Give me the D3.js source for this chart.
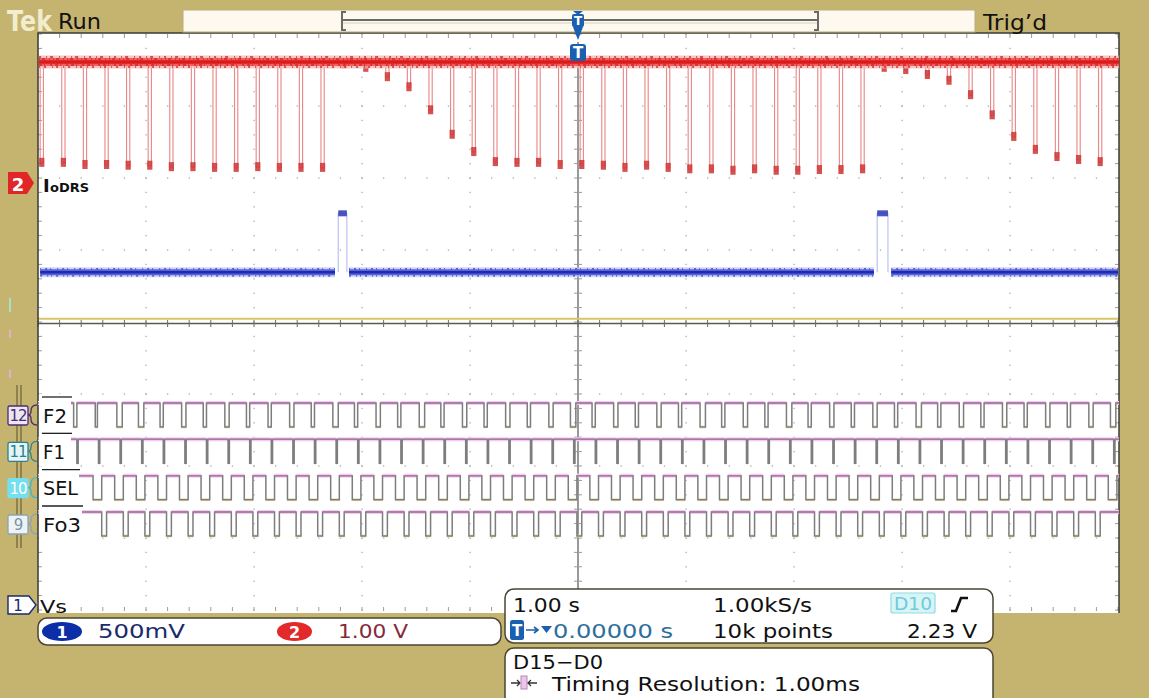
<!DOCTYPE html>
<html><head><meta charset="utf-8">
<script src="https://cdn.jsdelivr.net/npm/d3@7"></script>
<style>
html,body{margin:0;padding:0;background:#c5b46f;overflow:hidden}
svg{display:block}
text{font-family:"DejaVu Sans",sans-serif}
</style></head><body>
<svg id="c" width="1149" height="698"></svg>
<script>
// ---------------- DATA ----------------
// Channel 2 (IoDRS, 1.00 V/div): pulse times (s) and pulse bottom levels (V)
const ch2PulseTimes = [-4.98,-4.78,-4.58,-4.38,-4.18,-3.98,-3.78,-3.58,-3.38,-3.18,
  -2.98,-2.78,-2.58,-2.38,-2.18,-1.98,-1.78,-1.58,-1.38,-1.18,
  -0.98,-0.78,-0.58,-0.38,-0.18,0.02,0.22,0.42,0.62,0.82,
  1.02,1.22,1.42,1.62,1.82,2.02,2.22,2.42,2.62,2.82,
  3.02,3.22,3.42,3.62,3.82,4.02,4.22,4.42,4.62,4.82];
const ch2PulseLevels = [0.28,0.28,0.25,0.25,0.24,0.24,0.22,0.22,0.21,0.21,
  0.22,0.21,0.21,0.21,1.65,1.60,1.47,1.33,1.01,0.67,
  0.43,0.29,0.28,0.28,0.25,0.25,0.24,0.21,0.24,0.21,
  0.19,0.19,0.17,0.19,0.17,0.17,0.18,0.18,0.19,1.60,
  1.57,1.50,1.42,1.22,0.94,0.64,0.46,0.36,0.32,0.29];
const ch2Baseline = 1.68;
const ch2PulseWidth = 0.03;
// Channel 1 (500 mV/div)
const ch1Baseline = 2.31;
const ch1PulseStarts = [-2.22, 2.77];
const ch1PulseEnds = [-2.14, 2.87];
const ch1PulseLevel = 2.72;
const ch1BaseSegments = [[-4.98,-2.25],[-2.12,2.74],[2.90,5.0]];
// Digital channels: low-going pulses (start time s, width s)
const digitalNames = ["F2","F1","SEL","Fo3"];
const digitalNums = ["12","11","10","9"];
const f2Starts = [-4.67,-4.47,-4.27,-4.07,-3.87,-3.67,-3.47,-3.27,-3.07,-2.87,
  -2.67,-2.47,-2.27,-2.07,-1.87,-1.67,-1.47,-1.27,-1.07,-0.87,
  -0.67,-0.47,-0.27,-0.07,0.13,0.33,0.53,0.73,0.93,1.13,
  1.33,1.53,1.73,1.93,2.13,2.33,2.53,2.73,2.93,3.13,
  3.33,3.53,3.73,3.93,4.13,4.33,4.53,4.73,4.93];
const f2Widths = [0.03,0.02,0.05,0.05,0.03,0.04,0.03,0.04,0.03,0.03,
  0.04,0.03,0.05,0.03,0.04,0.03,0.05,0.03,0.04,0.03,
  0.04,0.03,0.04,0.05,0.03,0.04,0.03,0.04,0.03,0.05,
  0.03,0.04,0.03,0.05,0.03,0.04,0.03,0.04,0.03,0.05,
  0.03,0.04,0.03,0.04,0.03,0.04,0.03,0.04,0.05];
const f1Starts = [-4.64,-4.44,-4.24,-4.04,-3.84,-3.64,-3.44,-3.24,-3.04,-2.84,
  -2.64,-2.44,-2.24,-2.04,-1.84,-1.64,-1.44,-1.24,-1.04,-0.84,
  -0.64,-0.44,-0.24,-0.04,0.16,0.36,0.56,0.76,0.96,1.16,
  1.36,1.56,1.76,1.96,2.16,2.36,2.56,2.76,2.96,3.16,
  3.36,3.56,3.76,3.96,4.16,4.36,4.56,4.76,4.96];
const f1Width = 0.012;
const selStarts = [-4.49,-4.29,-4.09,-3.89,-3.69,-3.49,-3.29,-3.09,-2.89,-2.69,
  -2.49,-2.29,-2.09,-1.89,-1.69,-1.49,-1.29,-1.09,-0.89,-0.69,
  -0.49,-0.29,-0.09,0.11,0.31,0.51,0.71,0.91,1.11,1.31,
  1.51,1.71,1.91,2.11,2.31,2.51,2.71,2.91,3.11,3.31,
  3.51,3.71,3.91,4.11,4.31,4.51,4.71,4.91];
const selWidth = 0.08;
const fo3Starts = [-4.41,-4.21,-4.01,-3.81,-3.61,-3.41,-3.21,-3.01,-2.81,-2.61,
  -2.41,-2.21,-2.01,-1.81,-1.61,-1.41,-1.21,-1.01,-0.81,-0.61,
  -0.41,-0.21,-0.01,0.19,0.39,0.59,0.79,0.99,1.19,1.39,
  1.59,1.79,1.99,2.19,2.39,2.59,2.79,2.99,3.19,3.39,
  3.59,3.79,3.99,4.19,4.39,4.59,4.79];
const fo3Width = 0.045;
const yellowLevel = 0.03; // divisions
// Readouts
const ch1Scale = "500mV", ch2Scale = "1.00 V";
const timeScale = "1.00 s", sampleRate = "1.00kS/s", trigSource = "D10";
const trigPos = "0.00000 s", recordLen = "10k points", trigLevel = "2.23 V";
const digRange = "D15\u2212D0", timingRes = "Timing Resolution: 1.00ms";

// ---------------- LAYOUT ----------------
const svg = d3.select("#c");
const PL = 38, PR = 1118, PT = 34, PB = 610;
const x = d3.scaleLinear().domain([-5, 5]).range([PL, PR]);
const gy = d3.scaleLinear().domain([-4, 4]).range([PB, PT]);
const y2 = d3.scaleLinear().domain([0, 1]).range([183, 111]);
const y1 = d3.scaleLinear().domain([0, 0.5]).range([605, 533]);
const dRow = d3.scalePoint().domain(digitalNames).range([403, 512]);
const dH = 24;
const tan = "#c5b46f";

function txt(xx, yy, s, size, fill, len, anchor) {
  const t = svg.append("text").attr("x", xx).attr("y", yy).attr("font-size", size).attr("fill", fill).text(s);
  if (len) t.attr("textLength", len).attr("lengthAdjust", "spacingAndGlyphs");
  if (anchor) t.attr("text-anchor", anchor);
  return t;
}

svg.append("rect").attr("width", 1149).attr("height", 698).attr("fill", tan);
svg.append("rect").attr("x", PL).attr("y", 33).attr("width", 1119 - PL).attr("height", 580).attr("fill", "#ffffff");

// grid dots
const g = svg.append("g");
const fine = d3.range(-25, 26).map(d => d / 5);
const fineY = d3.range(-20, 21).map(d => d / 5);
[-4,-3,-2,-1,1,2,3,4].forEach(i => {
  g.selectAll(null).data(fineY).enter().append("rect")
    .attr("x", x(i) - 0.6).attr("y", d => gy(d) - 0.6).attr("width", 1.3).attr("height", 1.3).attr("fill", "#a9a9a9");
});
[-3,-2,-1,1,2,3].forEach(j => {
  g.selectAll(null).data(fine).enter().append("rect")
    .attr("x", d => x(d) - 0.6).attr("y", gy(j) - 0.6).attr("width", 1.3).attr("height", 1.3).attr("fill", "#a9a9a9");
});
// border ticks
g.selectAll(null).data(fineY).enter().append("line")
  .attr("x1", PL).attr("x2", PL + 4).attr("y1", d => gy(d)).attr("y2", d => gy(d)).attr("stroke", "#9a9a9a");
g.selectAll(null).data(fineY).enter().append("line")
  .attr("x1", PR - 3).attr("x2", PR + 1).attr("y1", d => gy(d)).attr("y2", d => gy(d)).attr("stroke", "#9a9a9a");
g.selectAll(null).data(fine).enter().append("line")
  .attr("x1", d => x(d)).attr("x2", d => x(d)).attr("y1", PT).attr("y2", PT + 4).attr("stroke", "#9a9a9a");
g.selectAll(null).data(fine).enter().append("line")
  .attr("x1", d => x(d)).attr("x2", d => x(d)).attr("y1", PB - 3).attr("y2", PB + 1).attr("stroke", "#9a9a9a");
// center cross
g.append("line").attr("x1", x(0)).attr("x2", x(0)).attr("y1", 42).attr("y2", 613).attr("stroke", "#6e6e6e").attr("stroke-width", 1.4);
g.selectAll(null).data(fineY).enter().append("line")
  .attr("x1", x(0) - 4).attr("x2", x(0) + 4).attr("y1", d => gy(d)).attr("y2", d => gy(d)).attr("stroke", "#9a9a9a");
// yellow trace and center horizontal
svg.append("line").attr("x1", PL).attr("x2", 1119).attr("y1", gy(yellowLevel) - 1).attr("y2", gy(yellowLevel) - 1)
  .attr("stroke", "#d6c765").attr("stroke-width", 2);
g.append("line").attr("x1", PL).attr("x2", 1119).attr("y1", gy(0) + 1.5).attr("y2", gy(0) + 1.5).attr("stroke", "#5e5a50").attr("stroke-width", 1.4);
g.selectAll(null).data(fine).enter().append("line")
  .attr("x1", d => x(d)).attr("x2", d => x(d)).attr("y1", gy(0) - 2).attr("y2", gy(0) + 5).attr("stroke", "#6a6a6a");

// plot border
svg.append("path").attr("d", `M${PL},613 L${PL},33 L1119,33 L1119,613`).attr("fill", "none").attr("stroke", "#3a3a36").attr("stroke-width", 1.5);

// ---------------- CH2 red ----------------
const lineF = d3.line();
const red = svg.append("g");
const baseY2 = y2(ch2Baseline);
ch2PulseTimes.forEach((t, i) => {
  const v = ch2PulseLevels[i];
  const pts = [[x(t), baseY2 + 4], [x(t), y2(v)], [x(t + ch2PulseWidth), y2(v)], [x(t + ch2PulseWidth), baseY2 + 4]];
  red.append("path").attr("d", lineF(pts)).attr("fill", "none").attr("stroke", "#e98686").attr("stroke-width", 1.1);
  red.append("rect").attr("x", x(t) - 1).attr("y", y2(v) - 5).attr("width", x(t + ch2PulseWidth) - x(t) + 2).attr("height", 9)
    .attr("fill", "#cf3434").attr("opacity", 0.85);
});
[[13, "#f6b4b4", 0.75], [8, "#ea5656", 0.9], [3.5, "#dc1a1a", 1]].forEach(([w, c, o]) => {
  red.append("path").attr("d", lineF([[x(-4.99), baseY2], [PR + 1, baseY2]]))
    .attr("stroke", c).attr("stroke-width", w).attr("opacity", o).attr("fill", "none");
});
[[-5, "2 5 1 3 3 6 1 4"], [-3, "1 2 3 4 1 3"], [3, "3 2 1 5 2 3"], [5, "1 4 2 6 1 3 2 5"]].forEach(([dy, da]) => {
  red.append("path").attr("d", lineF([[x(-4.99), baseY2 + dy], [PR + 1, baseY2 + dy]]))
    .attr("stroke", "#d82424").attr("stroke-width", 1.6).attr("stroke-dasharray", da).attr("fill", "none");
});

// ---------------- CH1 blue ----------------
const blue = svg.append("g");
const baseY1 = y1(ch1Baseline);
ch1BaseSegments.forEach(([a, b]) => {
  [[10, "#bcc3f2", 0.7], [6, "#4b58d6", 0.9], [2.5, "#1e2ab0", 1]].forEach(([w, c, o]) => {
    blue.append("path").attr("d", lineF([[x(a), baseY1], [x(b), baseY1]]))
      .attr("stroke", c).attr("stroke-width", w).attr("opacity", o).attr("fill", "none");
  });
  blue.append("path").attr("d", lineF([[x(a), baseY1 - 3.5], [x(b), baseY1 - 3.5]]))
    .attr("stroke", "#3040c8").attr("stroke-width", 1.4).attr("stroke-dasharray", "1 4 2 3 1 6").attr("fill", "none");
  blue.append("path").attr("d", lineF([[x(a), baseY1 + 3.5], [x(b), baseY1 + 3.5]]))
    .attr("stroke", "#3040c8").attr("stroke-width", 1.4).attr("stroke-dasharray", "2 5 1 3 1 4").attr("fill", "none");
});
ch1PulseStarts.forEach((t, i) => {
  const te = ch1PulseEnds[i];
  const pts = [[x(t), baseY1], [x(t), y1(ch1PulseLevel)], [x(te), y1(ch1PulseLevel)], [x(te), baseY1]];
  blue.append("path").attr("d", lineF(pts)).attr("fill", "none").attr("stroke", "#b4bcf0").attr("stroke-width", 1.1);
  blue.append("rect").attr("x", x(t)).attr("y", y1(ch1PulseLevel) - 3).attr("width", x(te) - x(t)).attr("height", 6)
    .attr("fill", "#2a36b8").attr("opacity", 0.85);
});

// ---------------- DIGITAL ----------------
const digData = {
  F2: f2Starts.map((s, i) => [s, f2Widths[i]]),
  F1: f1Starts.map(s => [s, f1Width]),
  SEL: selStarts.map(s => [s, selWidth]),
  Fo3: fo3Starts.map(s => [s, fo3Width])
};
const dig = svg.append("g");
digitalNames.forEach(name => {
  const hi = dRow(name), lo = hi + dH;
  const pulses = digData[name];
  const hiSegs = [];
  let cur = PL;
  pulses.forEach(([s, w]) => { hiSegs.push([cur, x(s)]); cur = x(s + w); });
  hiSegs.push([cur, PR + 1]);
  hiSegs.forEach(([a, b]) => {
    dig.append("path").attr("d", lineF([[a, hi], [b, hi]])).attr("stroke", "#f3cdef").attr("stroke-width", 4).attr("fill", "none");
  });
  pulses.forEach(([s, w]) => {
    dig.append("path").attr("d", lineF([[x(s), lo], [x(s + w), lo]])).attr("stroke", "#ece6b4").attr("stroke-width", 3).attr("fill", "none");
  });
  const pts = [[PL, hi]];
  pulses.forEach(([s, w]) => { pts.push([x(s), hi], [x(s), lo], [x(s + w), lo], [x(s + w), hi]); });
  pts.push([PR + 1, hi]);
  dig.append("path").attr("d", lineF(pts)).attr("fill", "none").attr("stroke", "#7d7d7d").attr("stroke-width", 1.5);
  hiSegs.forEach(([a, b]) => {
    dig.append("path").attr("d", lineF([[a, hi], [b, hi]])).attr("stroke", "#b873b6").attr("stroke-width", 1.1).attr("fill", "none");
  });
});

// digital labels
const labW = {F2: 32, F1: 32, SEL: 40, Fo3: 43};
const labLen = {F2: 24, F1: 22, SEL: 35, Fo3: 38};
const numStyle = {
  "12": {fill: "#ece6f4", stroke: "#4b2d72", text: "#4b2d72"},
  "11": {fill: "#e4f5f5", stroke: "#2c8190", text: "#2c8190"},
  "10": {fill: "#74e0ef", stroke: "#74e0ef", text: "#ffffff"},
  "9":  {fill: "#eef3f6", stroke: "#8aa4b4", text: "#7a94a8"}
};
svg.append("line").attr("x1", 17).attr("x2", 17).attr("y1", 385).attr("y2", 548).attr("stroke", "#5a5030").attr("stroke-width", 1);
svg.append("line").attr("x1", 21).attr("x2", 21).attr("y1", 385).attr("y2", 548).attr("stroke", "#5a5030").attr("stroke-width", 1);
digitalNames.forEach((name, i) => {
  const hi = dRow(name);
  const cy = hi + 12;
  svg.append("rect").attr("x", PL + 1).attr("y", hi - 9).attr("width", labW[name]).attr("height", dH + 12).attr("fill", "#ffffff");
  svg.append("line").attr("x1", 42).attr("x2", 42 + labW[name] - 2).attr("y1", hi - 6).attr("y2", hi - 6).attr("stroke", "#222").attr("stroke-width", 1.3);
  txt(43, cy + 7.5, name, 20, "#111", labLen[name]);
  const num = digitalNums[i], st = numStyle[num];
  svg.append("rect").attr("x", 8).attr("y", cy - 9).attr("width", 20).attr("height", 19).attr("rx", 1.5)
    .attr("fill", st.fill).attr("stroke", st.stroke).attr("stroke-width", 1.3);
  svg.append("text").attr("x", 18).attr("y", cy + 6).attr("text-anchor", "middle").attr("font-size", 15)
    .attr("font-family", "DejaVu Sans Condensed").attr("letter-spacing", -1).attr("fill", st.text).text(num);
  svg.append("path").attr("d", `M37,${cy - 10} Q31,${cy - 10} 31,${cy - 4} Q31,${cy} 28,${cy} Q31,${cy} 31,${cy + 4} Q31,${cy + 10} 37,${cy + 10}`)
    .attr("fill", "none").attr("stroke", st.stroke === "#74e0ef" ? "#3fb8cc" : st.stroke).attr("stroke-width", 1.3);
});

// ---------------- CHANNEL MARKERS ----------------
svg.append("path").attr("d", "M8,172 L27,172 L34,183 L27,194 L8,194 Z").attr("fill", "#e02626");
svg.append("text").attr("x", 18).attr("y", 190.5).attr("text-anchor", "middle").attr("font-size", 18).attr("font-weight", "bold").attr("fill", "#fff").text("2");
svg.append("text").attr("x", 43).attr("y", 192).attr("font-family", "Liberation Serif").attr("font-weight", "bold").attr("font-size", 18).attr("fill", "#111").text("I");
svg.append("text").attr("x", 50).attr("y", 192).attr("font-family", "Liberation Serif").attr("font-weight", "bold").attr("font-size", 13).attr("fill", "#111").text("oDRS");
svg.append("path").attr("d", "M8,596 L29,596 L36,605 L29,614 L8,614 Z").attr("fill", "#fff").attr("stroke", "#1c2a6c").attr("stroke-width", 1.4);
svg.append("text").attr("x", 18).attr("y", 611).attr("text-anchor", "middle").attr("font-size", 15).attr("fill", "#1c2a6c").text("1");
txt(40, 613, "Vs", 18, "#111", 27);
svg.append("line").attr("x1", 10).attr("x2", 10).attr("y1", 298).attr("y2", 312).attr("stroke", "#a8e0c0").attr("stroke-width", 2);
svg.append("line").attr("x1", 10).attr("x2", 10).attr("y1", 330).attr("y2", 338).attr("stroke", "#e8b0c0").attr("stroke-width", 2);
svg.append("line").attr("x1", 10).attr("x2", 10).attr("y1", 370).attr("y2", 378).attr("stroke", "#e0b0d8").attr("stroke-width", 2);

// ---------------- TOP BAR ----------------
svg.append("text").attr("x", 7).attr("y", 31).attr("font-family", "Liberation Serif").attr("font-weight", "bold")
  .attr("font-size", 29).attr("fill", "#f3edcf").attr("textLength", 45).attr("lengthAdjust", "spacingAndGlyphs").text("Tek");
txt(58, 29, "Run", 21, "#111", 43);
svg.append("rect").attr("x", 183).attr("y", 10).attr("width", 792).attr("height", 22).attr("fill", "#fdf9ef").attr("stroke", "#b9ad78").attr("stroke-width", 1);
svg.append("line").attr("x1", 342).attr("x2", 818).attr("y1", 20).attr("y2", 20).attr("stroke", "#6a6a66").attr("stroke-width", 2);
svg.append("line").attr("x1", 342).attr("x2", 818).attr("y1", 23).attr("y2", 23).attr("stroke", "#d8d0c0").attr("stroke-width", 1);
svg.append("path").attr("d", "M346,12 L342,12 L342,30 L346,30").attr("fill", "none").attr("stroke", "#6a6a66").attr("stroke-width", 2);
svg.append("path").attr("d", "M814,12 L818,12 L818,30 L814,30").attr("fill", "none").attr("stroke", "#6a6a66").attr("stroke-width", 2);
txt(983, 30, "Trig\u2019d", 21, "#111", 64);
const tx = x(0);
svg.append("path").attr("d", `M${tx - 5},11 L${tx + 5},11 L${tx},15 Z`).attr("fill", "#1a5fb0");
svg.append("rect").attr("x", tx - 6).attr("y", 14).attr("width", 12).attr("height", 13).attr("rx", 2).attr("fill", "#1a5fb0");
svg.append("text").attr("x", tx).attr("y", 25).attr("text-anchor", "middle").attr("font-size", 12).attr("font-weight", "bold").attr("fill", "#fff").text("T");
svg.append("path").attr("d", `M${tx - 5},27 L${tx + 5},27 L${tx},40 Z`).attr("fill", "#1a5fb0");
svg.append("rect").attr("x", tx - 8).attr("y", 44).attr("width", 16).attr("height", 17).attr("rx", 3).attr("fill", "#1a5fb0");
svg.append("text").attr("x", tx).attr("y", 58).attr("text-anchor", "middle").attr("font-size", 15).attr("font-weight", "bold").attr("fill", "#fff").text("T");

// ---------------- BOTTOM READOUTS ----------------
svg.append("rect").attr("x", 38).attr("y", 618).attr("width", 463).attr("height", 27).attr("rx", 9)
  .attr("fill", "#fff").attr("stroke", "#4a4632").attr("stroke-width", 1.5);
svg.append("ellipse").attr("cx", 62).attr("cy", 631.5).attr("rx", 20).attr("ry", 9.5).attr("fill", "#0c2fa8");
svg.append("text").attr("x", 62).attr("y", 637.5).attr("text-anchor", "middle").attr("font-size", 16).attr("font-weight", "bold").attr("fill", "#fff").text("1");
txt(98, 638, ch1Scale, 19, "#1c2a6c", 87);
svg.append("ellipse").attr("cx", 294.5).attr("cy", 631.5).attr("rx", 17.5).attr("ry", 9.5).attr("fill", "#e22a2a");
svg.append("text").attr("x", 294.5).attr("y", 637.5).attr("text-anchor", "middle").attr("font-size", 16).attr("font-weight", "bold").attr("fill", "#fff").text("2");
txt(338, 638, ch2Scale, 19, "#862a3a", 70);

svg.append("rect").attr("x", 505).attr("y", 589).attr("width", 488).attr("height", 54).attr("rx", 9)
  .attr("fill", "#fff").attr("stroke", "#4a4632").attr("stroke-width", 1.5);
txt(513, 612, timeScale, 20, "#111", 67);
txt(713, 612, sampleRate, 20, "#111", 99);
svg.append("rect").attr("x", 891).attr("y", 593).attr("width", 44).attr("height", 20).attr("rx", 2).attr("fill", "#d9f4f6").attr("stroke", "#8edbe4").attr("stroke-width", 1.2);
txt(913, 610, trigSource, 17, "#6cccd8", 38, "middle");
svg.append("path").attr("d", "M951,611 L956,611 L961,598 L968,598").attr("fill", "none").attr("stroke", "#111").attr("stroke-width", 2.6);
svg.append("rect").attr("x", 510).attr("y", 620).attr("width", 14).attr("height", 20).attr("rx", 2.5).attr("fill", "#1a5fb0");
svg.append("text").attr("x", 517).attr("y", 636).attr("text-anchor", "middle").attr("font-size", 15).attr("font-weight", "bold").attr("fill", "#fff").text("T");
svg.append("path").attr("d", "M526,630 L537,630 M534,627 L538,630 L534,633").attr("fill", "none").attr("stroke", "#1a5fb0").attr("stroke-width", 1.6);
svg.append("path").attr("d", "M541,626 L552,626 L546.5,633 Z").attr("fill", "#1a5fb0");
txt(553, 638, trigPos, 20, "#2d6f9c", 120);
txt(713, 638, recordLen, 20, "#111", 120);
txt(907, 638, trigLevel, 20, "#111", 70);

svg.append("rect").attr("x", 505).attr("y", 648).attr("width", 488).attr("height", 60).attr("rx", 9)
  .attr("fill", "#fff").attr("stroke", "#4a4632").attr("stroke-width", 1.5);
txt(513, 669, digRange, 20, "#111", 90);
svg.append("path").attr("d", "M511,683 L520,683 M517,680 L520,683 L517,686").attr("fill", "none").attr("stroke", "#333").attr("stroke-width", 1.3);
svg.append("rect").attr("x", 521).attr("y", 676).attr("width", 6).attr("height", 13).attr("fill", "#e9c6ea").attr("stroke", "#b986bb");
svg.append("path").attr("d", "M537,683 L528,683 M531,680 L528,683 L531,686").attr("fill", "none").attr("stroke", "#333").attr("stroke-width", 1.3);
txt(552, 691, timingRes, 20, "#111", 308);
</script>
</body></html>
